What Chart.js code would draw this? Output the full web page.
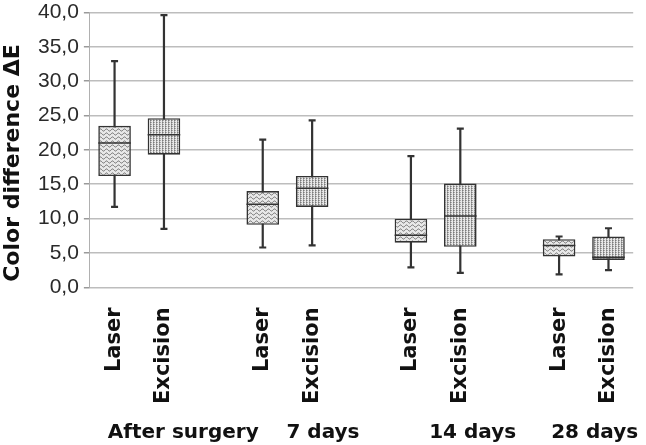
<!DOCTYPE html>
<html>
<head>
<meta charset="utf-8">
<script src="https://cdn.jsdelivr.net/npm/chart.js@4"></script>
<style>
  body { margin: 0; background: #fff; }
  canvas { display: block; }
</style>
</head>
<body>
<canvas id="myChart" width="646" height="445"></canvas>
<script>
'use strict';

// groups and methods (one box per method inside each group)
let groups = ['After surgery', '7 days', '14 days', '28 days'];
let methods = ['Laser', 'Excision'];

// box plot values, in order Laser/Excision for each group
let whiskerLow = [11.7, 8.5, 5.8, 6.1, 2.9, 2.1, 1.9, 2.5];
let quartile1 = [16.2, 19.3, 9.1, 11.7, 6.5, 5.9, 4.5, 4.0];
let medians = [21.0, 22.2, 12.1, 14.4, 7.6, 10.4, 6.1, 4.4];
let quartile3 = [23.5, 24.6, 14.0, 16.2, 10.0, 15.1, 7.0, 7.4];
let whiskerHigh = [32.9, 39.6, 21.5, 24.3, 19.1, 23.1, 7.4, 8.6];

let yMin = 0;
let yMax = 40;
let yStep = 5;

// where the group names sit, in category units of the x axis
let groupLabelAt = [1.39, 4.22, 7.25, 9.72];

// build the slots: Laser, Excision, gap, Laser, Excision, gap ...
let labels = [];
let slotBox = [];
for (let g = 0; g < groups.length; g++) {
    for (let m = 0; m < methods.length; m++) {
        labels.push(methods[m]);
        slotBox.push(g * methods.length + m);
    }
    if (g < groups.length - 1) {
        labels.push('');
        slotBox.push(null);
    }
}

let boxData = slotBox.map(k => k === null ? null : [quartile1[k], quartile3[k]]);

function makeWavePattern() {
    let c = document.createElement('canvas');
    c.width = 6;
    c.height = 4;
    let cx = c.getContext('2d');
    cx.fillStyle = '#e8e8e8';
    cx.fillRect(0, 0, 6, 4);
    cx.strokeStyle = '#6e6e6e';
    cx.lineWidth = 1;
    cx.beginPath();
    for (let x = 0; x <= 6; x += 0.5) {
        let y = 2 + Math.sin(x / 6 * Math.PI * 2) * 1.1;
        if (x === 0) cx.moveTo(x, y); else cx.lineTo(x, y);
    }
    cx.stroke();
    return cx.createPattern(c, 'repeat');
}

function makeDotPattern() {
    let c = document.createElement('canvas');
    c.width = 3;
    c.height = 2;
    let cx = c.getContext('2d');
    cx.fillStyle = '#e8e8e8';
    cx.fillRect(0, 0, 3, 2);
    cx.fillStyle = '#7a7a7a';
    cx.fillRect(0, 0, 1, 1);
    cx.fillStyle = '#a8a8a8';
    cx.fillRect(0, 1, 1, 1);
    cx.fillRect(1, 0, 1, 1);
    return cx.createPattern(c, 'repeat');
}

let wave = makeWavePattern();
let dots = makeDotPattern();
let boxFill = labels.map(l => l === 'Laser' ? wave : dots);

// whiskers go under the boxes, medians on top
let boxPlotParts = {
    id: 'boxPlotParts',
    beforeDatasetsDraw(chart) {
        let ctx = chart.ctx;
        let y = chart.scales.y;
        let meta = chart.getDatasetMeta(0);
        ctx.save();
        ctx.strokeStyle = '#333';
        ctx.lineWidth = 2.2;
        for (let i = 0; i < slotBox.length; i++) {
            let k = slotBox[i];
            if (k === null) continue;
            let x = meta.data[i].x;
            let top = y.getPixelForValue(whiskerHigh[k]);
            let bottom = y.getPixelForValue(whiskerLow[k]);
            ctx.beginPath();
            ctx.moveTo(x, top);
            ctx.lineTo(x, bottom);
            ctx.moveTo(x - 3.5, top);
            ctx.lineTo(x + 3.5, top);
            ctx.moveTo(x - 3.5, bottom);
            ctx.lineTo(x + 3.5, bottom);
            ctx.stroke();
        }
        ctx.restore();
    },
    afterDatasetsDraw(chart) {
        let ctx = chart.ctx;
        let y = chart.scales.y;
        let x = chart.scales.x;
        let meta = chart.getDatasetMeta(0);
        ctx.save();
        ctx.strokeStyle = '#333';
        ctx.lineWidth = 1.5;
        for (let i = 0; i < slotBox.length; i++) {
            let k = slotBox[i];
            if (k === null) continue;
            let bar = meta.data[i];
            let half = bar.width / 2;
            let my = y.getPixelForValue(medians[k]);
            ctx.beginPath();
            ctx.moveTo(bar.x - half, my);
            ctx.lineTo(bar.x + half, my);
            ctx.stroke();
        }

        // group names under the method labels
        ctx.fillStyle = '#111';
        ctx.font = 'bold 20px "DejaVu Sans"';
        ctx.textAlign = 'center';
        ctx.textBaseline = 'alphabetic';
        for (let g = 0; g < groups.length; g++) {
            ctx.fillText(groups[g], x.getPixelForValue(groupLabelAt[g]), 438);
        }

        // axis title, a little below the middle as in the source
        ctx.translate(13, 163);
        ctx.rotate(-Math.PI / 2);
        ctx.font = 'bold 22px "DejaVu Sans"';
        ctx.textBaseline = 'middle';
        ctx.fillText('Color difference \u0394E', 0, 0);
        ctx.restore();
    }
};

let ctx = document.getElementById('myChart').getContext('2d');
let chart = new Chart(ctx, {
    type: 'bar',
    data: {
        labels: labels,
        datasets: [{
            label: 'box',
            data: boxData,
            backgroundColor: boxFill,
            borderColor: '#333',
            borderWidth: 1.6,
            borderSkipped: false,
            barPercentage: 0.66,
            categoryPercentage: 1
        }]
    },
    options: {
        responsive: false,
        animation: false,
        layout: {
            padding: { left: 33, right: 7, top: 0, bottom: 29 }
        },
        plugins: {
            legend: { display: false },
            tooltip: { enabled: false }
        },
        scales: {
            x: {
                grid: { display: false },
                border: { display: false },
                ticks: {
                    autoSkip: false,
                    minRotation: 90,
                    maxRotation: 90,
                    padding: 12,
                    color: '#111',
                    font: { family: 'DejaVu Sans', weight: 'bold', size: 21 }
                }
            },
            y: {
                min: yMin,
                max: yMax,
                ticks: {
                    stepSize: yStep,
                    padding: 5,
                    color: '#2a2a2a',
                    font: { family: 'Liberation Sans', size: 21, lineHeight: 0.7 },
                    callback: v => v.toFixed(1).replace('.', ',')
                },
                grid: {
                    color: '#bdbdbd',
                    lineWidth: 1.5,
                    tickLength: 6,
                    tickColor: '#9a9a9a'
                },
                border: { display: true, color: '#b0b0b0', width: 1 }
            }
        }
    },
    plugins: [boxPlotParts]
});
</script>
</body>
</html>
